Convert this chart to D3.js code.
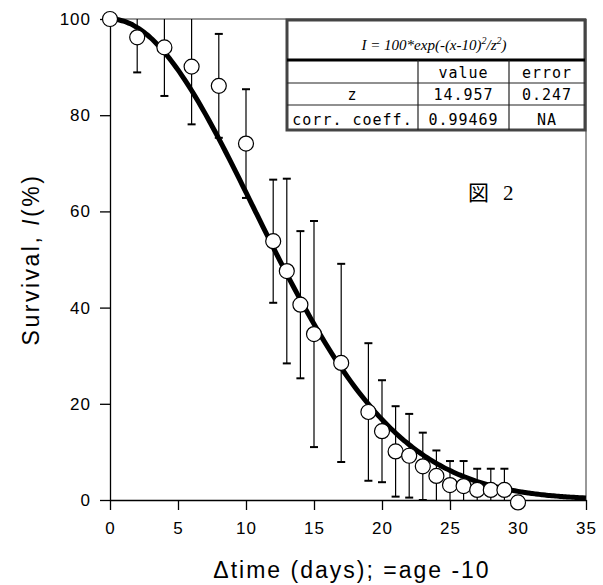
<!DOCTYPE html>
<html>
<head>
<meta charset="utf-8">
<script src="https://cdn.jsdelivr.net/npm/d3@7"></script>
<style>
	body { margin: 0; background: #fff; }
	.axis text { font-family: "Liberation Sans", Arial, sans-serif; font-size: 17px; fill: #000; }
	.axis path, .axis line { stroke: #000; stroke-width: 1.3; }
</style>
</head>
<body>
<svg id="chart"></svg>
<script>
// Survival data
const days = [0, 2, 4, 6, 8, 10, 12, 13, 14, 15, 17, 19, 20, 21, 22, 23, 24, 25, 26, 27, 28, 29, 30];
const survival = [100, 96.2, 94.1, 90.1, 86.1, 74.1, 53.8, 47.6, 40.6, 34.5, 28.5, 18.3, 14.3, 10.1, 9.2, 7.0, 5.0, 3.1, 2.9, 2.1, 2.1, 2.1, -0.5];
const errors = [0, 7.3, 10.1, 12.0, 10.8, 11.3, 12.8, 19.2, 15.3, 23.5, 20.6, 14.3, 10.6, 9.4, 8.7, 7.0, 5.3, 5.0, 5.2, 4.4, 4.4, 4.4, 0];

const xTicks = [0, 5, 10, 15, 20, 25, 30, 35];
const yTicks = [0, 20, 40, 60, 80, 100];

// Fit result shown in the table
const fitZ = 14.957;
const tableHeader = ["", "value", "error"];
const tableRows = [
	["z", "14.957", "0.247"],
	["corr. coeff.", "0.99469", "NA"]
];

/**
 * Dimensions
 */
let width = 603;
let height = 585;
let margin = { top: 19, right: 17, bottom: 85, left: 110 };
let chartW = width - margin.left - margin.right;
let chartH = height - margin.top - margin.bottom;

let xScale = d3.scaleLinear().domain([0, 35]).range([0, chartW]);
let yScale = d3.scaleLinear().domain([0, 100]).range([chartH, 0]);

let svg = d3.select("#chart")
	.attr("width", width)
	.attr("height", height);

let chart = svg.append("g")
	.attr("transform", "translate(" + margin.left + "," + margin.top + ")");

svg.append("defs").append("clipPath")
	.attr("id", "plotClip")
	.append("rect")
	.attr("x", 0).attr("y", 0)
	.attr("width", chartW).attr("height", chartH);

// Frame (top / right)
chart.append("line")
	.attr("x1", 0).attr("x2", chartW).attr("y1", 0).attr("y2", 0)
	.attr("stroke", "#333").attr("stroke-width", 1);
chart.append("line")
	.attr("x1", chartW).attr("x2", chartW).attr("y1", 0).attr("y2", chartH)
	.attr("stroke", "#333").attr("stroke-width", 1);

// Axes
let xAxis = d3.axisBottom(xScale).tickValues(xTicks).tickSize(10).tickSizeOuter(0).tickPadding(12);
chart.append("g").classed("axis", true)
	.attr("transform", "translate(0," + chartH + ")")
	.call(xAxis);

let yAxis = d3.axisLeft(yScale).tickValues(yTicks).tickSize(10).tickSizeOuter(0).tickPadding(9);
chart.append("g").classed("axis", true)
	.call(yAxis);

chart.selectAll(".axis text").style("letter-spacing", "1px");

// Error bars
let points = days.map(function(d, i) { return { x: d, y: survival[i], e: errors[i] }; });
let bars = chart.append("g").attr("clip-path", "url(#plotClip)")
	.selectAll(".errBar")
	.data(points.filter(function(d) { return d.e > 0; }))
	.enter().append("g")
	.attr("class", "errBar");

bars.append("line")
	.attr("x1", function(d) { return xScale(d.x); })
	.attr("x2", function(d) { return xScale(d.x); })
	.attr("y1", function(d) { return yScale(d.y + d.e); })
	.attr("y2", function(d) { return yScale(d.y - d.e); })
	.attr("stroke", "#000").attr("stroke-width", 1.2);

[1, -1].forEach(function(sign) {
	bars.append("line")
		.attr("x1", function(d) { return xScale(d.x) - 4; })
		.attr("x2", function(d) { return xScale(d.x) + 4; })
		.attr("y1", function(d) { return yScale(d.y + sign * d.e); })
		.attr("y2", function(d) { return yScale(d.y + sign * d.e); })
		.attr("stroke", "#000").attr("stroke-width", 2);
});

// Fitted curve: I = 100*exp(-t^2/z^2)
let curveX = d3.range(0, 35.01, 0.25);
let line = d3.line()
	.x(function(t) { return xScale(t); })
	.y(function(t) { return yScale(100 * Math.exp(-(t * t) / (fitZ * fitZ))); })
	.curve(d3.curveBasis);
chart.append("path")
	.datum(curveX)
	.attr("d", line)
	.attr("fill", "none")
	.attr("stroke", "#000")
	.attr("stroke-width", 5);

// Points
chart.selectAll(".pt")
	.data(points)
	.enter().append("circle")
	.attr("class", "pt")
	.attr("cx", function(d) { return xScale(d.x); })
	.attr("cy", function(d) { return yScale(d.y); })
	.attr("r", 7.5)
	.attr("fill", "#fff")
	.attr("stroke", "#000")
	.attr("stroke-width", 1.2);

// Axis titles
svg.append("text")
	.attr("x", 352).attr("y", 578)
	.attr("text-anchor", "middle")
	.style("font-family", "Liberation Sans, Arial, sans-serif")
	.style("font-size", "23px")
	.style("letter-spacing", "2px")
	.text("\u0394time (days); =age -10");

let yTitle = svg.append("text")
	.attr("transform", "translate(39," + (margin.top + chartH / 2) + ") rotate(-90)")
	.attr("text-anchor", "middle")
	.style("font-family", "Liberation Sans, Arial, sans-serif")
	.style("font-size", "23px")
	.style("letter-spacing", "2.5px");
yTitle.append("tspan").text("Survival, ");
yTitle.append("tspan").style("font-style", "italic").text("I");
yTitle.append("tspan").text("(%)");

// Figure label
let figLabel = svg.append("text")
	.attr("x", 468).attr("y", 200)
	.style("font-size", "21px");
figLabel.append("tspan").style("font-family", "Noto Sans CJK JP").text("図");
figLabel.append("tspan").attr("dx", 14).style("font-family", "Liberation Serif, serif").text("2");

// Fit table
let tbl = { x: 287, y: 20, cols: [0, 131, 222, 298], rows: [0, 40, 63, 85, 110] };
let table = svg.append("g").attr("transform", "translate(" + tbl.x + "," + tbl.y + ")");
let tblW = tbl.cols[3];
let tblH = tbl.rows[4];

table.append("rect")
	.attr("width", tblW).attr("height", tblH)
	.attr("fill", "#fff")
	.attr("stroke", "#444").attr("stroke-width", 3);

table.append("line")
	.attr("x1", 0).attr("x2", tblW).attr("y1", tbl.rows[1]).attr("y2", tbl.rows[1])
	.attr("stroke", "#000").attr("stroke-width", 3);
[2, 3].forEach(function(r) {
	table.append("line")
		.attr("x1", 0).attr("x2", tblW).attr("y1", tbl.rows[r]).attr("y2", tbl.rows[r])
		.attr("stroke", "#222").attr("stroke-width", 1.2);
});
[1, 2].forEach(function(c) {
	table.append("line")
		.attr("x1", tbl.cols[c]).attr("x2", tbl.cols[c]).attr("y1", tbl.rows[1]).attr("y2", tblH)
		.attr("stroke", "#222").attr("stroke-width", 1.2);
});

let title = table.append("text")
	.attr("x", tblW / 2 - 2).attr("y", 30)
	.attr("text-anchor", "middle")
	.style("font-family", "Liberation Serif, serif")
	.style("font-style", "italic")
	.style("font-size", "15px");
title.append("tspan").text("I = 100*exp(-(x-10)");
title.append("tspan").attr("dy", -6).style("font-size", "10px").text("2");
title.append("tspan").attr("dy", 6).text("/z");
title.append("tspan").attr("dy", -6).style("font-size", "10px").text("2");
title.append("tspan").attr("dy", 6).text(")");

let bodyRows = [tableHeader].concat(tableRows);
bodyRows.forEach(function(row, r) {
	row.forEach(function(cell, c) {
		table.append("text")
			.attr("x", (tbl.cols[c] + tbl.cols[c + 1]) / 2)
			.attr("y", tbl.rows[r + 2] - 5)
			.attr("text-anchor", "middle")
			.style("font-family", "DejaVu Sans Mono, monospace")
			.style("font-size", "15px")
			.style("letter-spacing", "1px")
			.text(cell);
	});
});
</script>
</body>
</html>
